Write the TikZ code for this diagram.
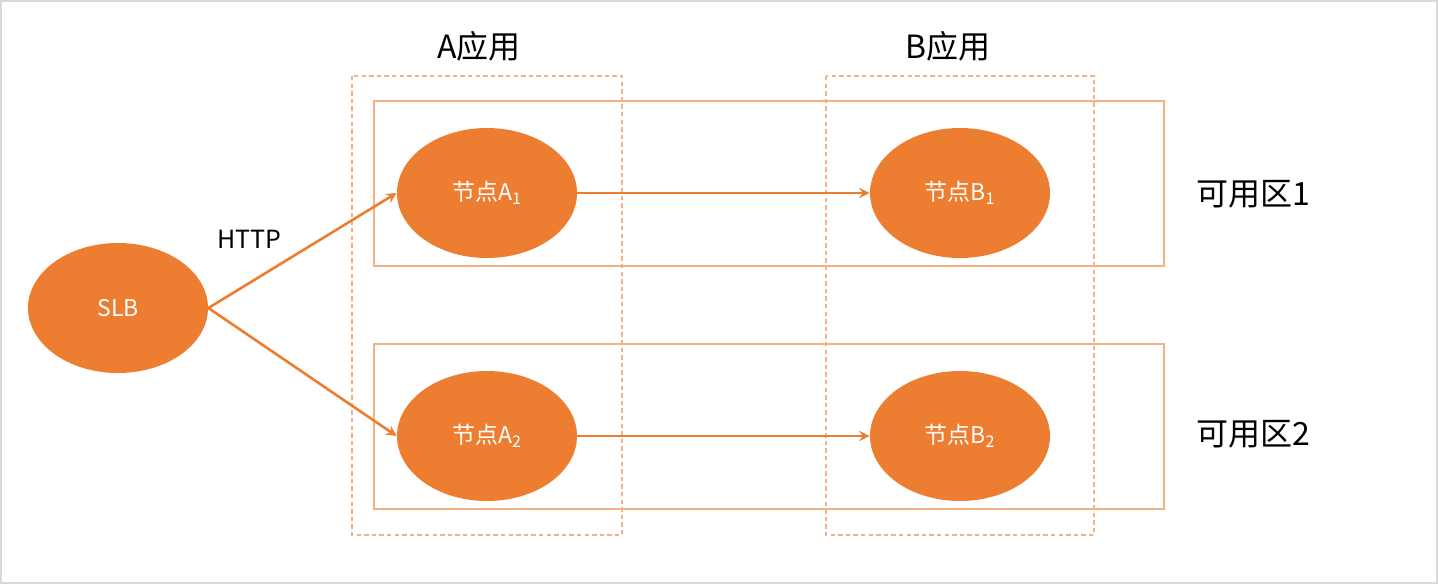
\documentclass[tikz,border=0pt]{standalone}
\usepackage{fontspec}
\setmainfont{Noto Sans CJK SC}
\usetikzlibrary{shapes.geometric,positioning}
\definecolor{accent}{HTML}{ED7D31}
\definecolor{zoneline}{HTML}{F4B183}

\begin{document}
\begin{tikzpicture}[x=0.5pt,y=-0.5pt]
        \tikzstyle{server} = [ellipse, fill=accent, minimum width=90pt, minimum height=65pt, text=white, font=\fontsize{11.5}{14}\selectfont]
        \tikzstyle{arrow} = [accent, line width=1.3pt, ->, >=stealth]
        \tikzstyle{zone} = [draw=zoneline, line width=0.9pt]
        \tikzstyle{app} = [draw=zoneline, line width=0.9pt, dash pattern=on 2.2pt off 1.6pt]
        \tikzstyle{title} = [font=\fontsize{16}{19}\selectfont]

        \useasboundingbox (0,0) rectangle (1438,584);
        \draw[gray!30, line width=0.6pt] (1,1) rectangle (1437,583);

        % availability zones and applications
        \draw[zone] (374,101) rectangle (1164,266);
        \draw[zone] (374,344) rectangle (1164,509);
        \draw[app] (352,76) rectangle (622,535);
        \draw[app] (826,76) rectangle (1094,535);

        \node (slb) [server] at (118,308) {SLB};
        \node (a1) [server] at (487,193) {节点A\textsubscript{1}};
        \node (a2) [server] at (487,436) {节点A\textsubscript{2}};
        \node (b1) [server] at (960,193) {节点B\textsubscript{1}};
        \node (b2) [server] at (960,436) {节点B\textsubscript{2}};

        \node (appA) [title] at (479,46) {A应用};
        \node (appB) [title] at (948,46) {B应用};
        \node (zone1) [title] at (1253,194) {可用区1};
        \node (zone2) [title] at (1253,434) {可用区2};

        \draw [arrow] (slb.east) -- node[pos=0.45, above left, xshift=-2pt, text=black, font=\fontsize{12.5}{15}\selectfont] {HTTP} (a1.west);
        \draw [arrow] (slb.east) -- (a2.west);
        \draw [arrow] (a1) -- (b1);
        \draw [arrow] (a2) -- (b2);
\end{tikzpicture}
\end{document}
